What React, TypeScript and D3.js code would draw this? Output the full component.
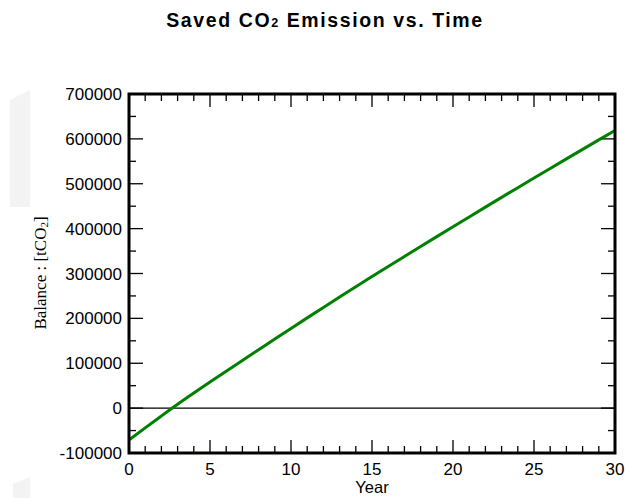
import React from "react";
import * as d3 from "d3";

const years = d3.range(0, 31);
const balance = [
  -71000, -44000, -17500, 8500, 33500, 58000, 82200, 106200, 130000, 153900,
  177600, 201100, 224400, 247500, 270400, 293100, 315600, 337900, 360100, 382200,
  404200, 426100, 447900, 469600, 491200, 512700, 534100, 555400, 576600, 597700,
  618700,
];
const xMajor = [0, 5, 10, 15, 20, 25, 30];
const xMinor = d3.range(0, 31);
const yMajor = [-100000, 0, 100000, 200000, 300000, 400000, 500000, 600000, 700000];
const yMinor = d3.range(-100000, 700001, 50000);

const W = 625, H = 498;
const L = 129, R = 615, T = 94, B = 453;

export default function App() {
  const x = d3.scaleLinear().domain([0, 30]).range([L, R]);
  const y = d3.scaleLinear().domain([-100000, 700000]).range([B, T]);
  const line = d3
    .line<number>()
    .x((_, i) => x(years[i]))
    .y((d) => y(d))
    .curve(d3.curveMonotoneX);
  const sans = "'Liberation Sans', Arial, sans-serif";
  const serif = "'Liberation Serif', 'Times New Roman', serif";
  return (
    <svg width={W} height={H} style={{ position: "absolute", left: 0, top: 0 }}>
      <rect width={W} height={H} fill="#fff" />
      <path d="M10,100 L30,90 L30,207 L10,207 Z" fill="#f3f3f3" />
      <path d="M13,498 L13,484 L30,477 L30,498 Z" fill="#f3f3f3" />
      <text x={325} y={27} textAnchor="middle" fontFamily={sans} fontWeight="bold" fontSize={19.5} letterSpacing={1.6}>
        Saved CO<tspan fontSize={12.5}>2</tspan> Emission vs. Time
      </text>
      {/* zero line */}
      <line x1={L} x2={R} y1={y(0)} y2={y(0)} stroke="#000" strokeWidth={1.3} />
      {/* ticks */}
      <g stroke="#000" strokeWidth={1.3}>
        {xMinor.map((v) => {
          const len = v % 5 === 0 ? 13 : 7;
          return (
            <g key={"x" + v}>
              <line x1={x(v)} x2={x(v)} y1={B} y2={B - len} />
              <line x1={x(v)} x2={x(v)} y1={T} y2={T + len} />
            </g>
          );
        })}
        {yMinor.map((v) => {
          const len = v % 100000 === 0 ? 14 : 7;
          return (
            <g key={"y" + v}>
              <line x1={L} x2={L + len} y1={y(v)} y2={y(v)} />
              <line x1={R} x2={R - len} y1={y(v)} y2={y(v)} />
            </g>
          );
        })}
      </g>
      <path d={line(balance) || ""} fill="none" stroke="#008000" strokeWidth={3} />
      <rect x={L} y={T} width={R - L} height={B - T} fill="none" stroke="#000" strokeWidth={3} />
      <g fontFamily={sans} fontSize={17} fill="#000">
        {yMajor.map((v) => (
          <text key={v} x={L - 7} y={y(v) + 6} textAnchor="end">
            {v}
          </text>
        ))}
        {xMajor.map((v) => (
          <text key={v} x={x(v)} y={475} textAnchor="middle">
            {v}
          </text>
        ))}
        <text x={372} y={493} textAnchor="middle" fontSize={16.5}>Year</text>
      </g>
      <text
        transform={`translate(46,273) rotate(-90)`}
        textAnchor="middle"
        fontFamily={serif}
        fontSize={17}
      >
        Balance : [tCO<tspan fontSize={11} dy={2}>2</tspan><tspan dy={-2}>]</tspan>
      </text>
    </svg>
  );
}
